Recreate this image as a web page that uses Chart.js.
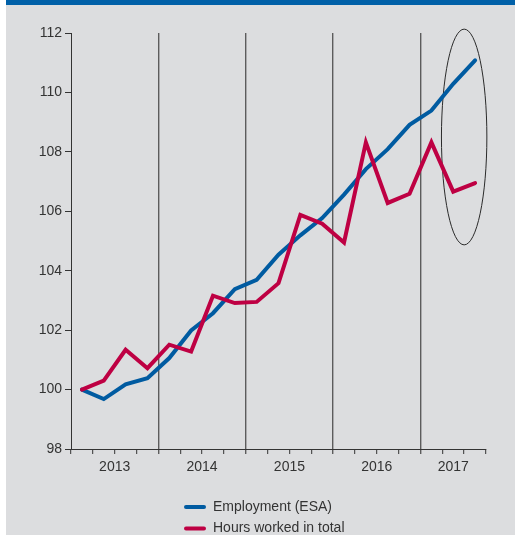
<!DOCTYPE html>
<html>
<head>
<meta charset="utf-8">
<script src="https://cdn.jsdelivr.net/npm/chart.js@4.4.1/dist/chart.umd.min.js"></script>
<style>
  html, body { margin: 0; padding: 0; background: #ffffff; }
  #panel { position: absolute; left: 6px; top: 0; width: 509px; height: 535px; background: #dcdddf; }
  #band { position: absolute; left: 6px; top: 0; width: 509px; height: 5px; background: #0060a8; }
  canvas { position: absolute; left: 0; top: 0; }
</style>
</head>
<body>
<div id="panel"></div>
<div id="band"></div>
<canvas id="chart" width="515" height="535"></canvas>
<script>
// Quarterly index, 2013 Q1 = 100
const years = ['2013', '2014', '2015', '2016', '2017'];
const quartersPerYear = [4, 4, 4, 4, 3];
const employment = [100.00, 99.68, 100.18, 100.38, 101.06, 101.99, 102.57, 103.38, 103.69, 104.54,
                    105.19, 105.77, 106.56, 107.42, 108.09, 108.91, 109.39, 110.29, 111.08];
const hoursWorked = [100.00, 100.30, 101.34, 100.72, 101.51, 101.28, 103.16, 102.91, 102.95, 103.58,
                     105.88, 105.58, 104.95, 108.32, 106.28, 106.59, 108.32, 106.66, 106.95];
const yTicks = [98, 100, 102, 104, 106, 108, 110, 112];
const seriesNames = ['Employment (ESA)', 'Hours worked in total'];

// Year boundaries (in quarters) and the centre of each year for its label
const boundaries = [0];
quartersPerYear.forEach(q => boundaries.push(boundaries[boundaries.length - 1] + q));
const totalQuarters = boundaries[boundaries.length - 1];
const yearCentres = years.map((y, i) => (boundaries[i] + boundaries[i + 1]) / 2);
const innerBoundaries = boundaries.slice(1, -1);

const toPoints = arr => arr.map((v, i) => ({ x: i + 0.5, y: v }));

const TEXT = '#333333';
const DIVIDER = '#5c5c5c';
const BLUE = '#005ba1';
const RED = '#be0043';
const FONT = { family: "'Liberation Sans', Arial, sans-serif", size: 14 };

// Highlight ring around the latest quarters (data units)
const ring = { cx: 18.0, cy: 108.5, rx: 1.04, ry: 3.63 };

const ringPlugin = {
  id: 'ring',
  beforeDatasetsDraw(chart) {
    const { ctx, scales: { x, y } } = chart;
    const cx = x.getPixelForValue(ring.cx);
    const cy = y.getPixelForValue(ring.cy);
    const rx = Math.abs(x.getPixelForValue(ring.cx + ring.rx) - cx);
    const ry = Math.abs(y.getPixelForValue(ring.cy + ring.ry) - cy);
    ctx.save();
    ctx.beginPath();
    ctx.ellipse(cx, cy, rx, ry, 0, 0, Math.PI * 2);
    ctx.strokeStyle = '#2a2a2a';
    ctx.lineWidth = 1;
    ctx.stroke();
    ctx.restore();
  }
};

// Legend stacked in one column below the plot
const stackedLegend = {
  id: 'stackedLegend',
  afterDraw(chart) {
    const { ctx, chartArea } = chart;
    const left = chartArea.left + 113;
    const firstRow = chartArea.bottom + 58;
    const rowGap = 21.5;
    ctx.save();
    ctx.font = `${FONT.size}px ${FONT.family}`;
    ctx.textBaseline = 'middle';
    ctx.textAlign = 'left';
    chart.data.datasets.forEach((ds, i) => {
      const yy = firstRow + i * rowGap;
      ctx.beginPath();
      ctx.moveTo(left + 2, yy);
      ctx.lineTo(left + 20, yy);
      ctx.strokeStyle = ds.borderColor;
      ctx.lineWidth = 4;
      ctx.lineCap = 'round';
      ctx.stroke();
      ctx.fillStyle = TEXT;
      ctx.fillText(ds.label, left + 29, yy);
    });
    ctx.restore();
  }
};

new Chart(document.getElementById('chart'), {
  type: 'line',
  data: {
    datasets: [
      {
        label: seriesNames[0],
        data: toPoints(employment),
        borderColor: BLUE,
        borderWidth: 4,
        pointRadius: 0,
        tension: 0,
        borderCapStyle: 'round',
        borderJoinStyle: 'miter',
        order: 1
      },
      {
        label: seriesNames[1],
        data: toPoints(hoursWorked),
        borderColor: RED,
        borderWidth: 4,
        pointRadius: 0,
        tension: 0,
        borderCapStyle: 'round',
        borderJoinStyle: 'miter',
        order: 0
      }
    ]
  },
  options: {
    responsive: false,
    animation: false,
    devicePixelRatio: 1,
    layout: { padding: { top: 33, right: 29, bottom: 0, left: 0 } },
    plugins: {
      legend: { display: false },
      tooltip: { enabled: false }
    },
    scales: {
      x: {
        type: 'linear',
        min: 0,
        max: totalQuarters,
        afterBuildTicks(axis) {
          const vals = [];
          for (let q = 0; q <= totalQuarters; q++) vals.push(q);
          yearCentres.forEach(c => { if (!vals.includes(c)) vals.push(c); });
          vals.sort((a, b) => a - b);
          axis.ticks = vals.map(v => ({ value: v }));
        },
        afterFit(axis) { axis.height = 86; },
        ticks: {
          autoSkip: false,
          maxRotation: 0,
          padding: 5,
          color: TEXT,
          font: FONT,
          callback(value) {
            const idx = yearCentres.indexOf(value);
            return idx >= 0 ? years[idx] : '';
          }
        },
        grid: {
          drawOnChartArea: true,
          tickLength: 5,
          lineWidth: 1.4,
          color: ctx => (ctx.tick && innerBoundaries.includes(ctx.tick.value)) ? DIVIDER : 'rgba(0,0,0,0)',
          tickColor: ctx => {
            if (!ctx.tick || !Number.isInteger(ctx.tick.value)) return 'rgba(0,0,0,0)';
            return innerBoundaries.includes(ctx.tick.value) ? DIVIDER : TEXT;
          },
          tickWidth: ctx => (ctx.tick && innerBoundaries.includes(ctx.tick.value)) ? 1.4 : 1
        },
        border: { color: TEXT, width: 1 }
      },
      y: {
        min: yTicks[0],
        max: yTicks[yTicks.length - 1],
        afterBuildTicks(axis) { axis.ticks = yTicks.map(v => ({ value: v })); },
        afterFit(axis) { axis.width = 71; },
        ticks: {
          padding: 3,
          color: TEXT,
          font: FONT
        },
        grid: {
          drawOnChartArea: false,
          tickLength: 6,
          tickColor: TEXT
        },
        border: { color: TEXT, width: 1 }
      }
    }
  },
  plugins: [ringPlugin, stackedLegend]
});
</script>
</body>
</html>
